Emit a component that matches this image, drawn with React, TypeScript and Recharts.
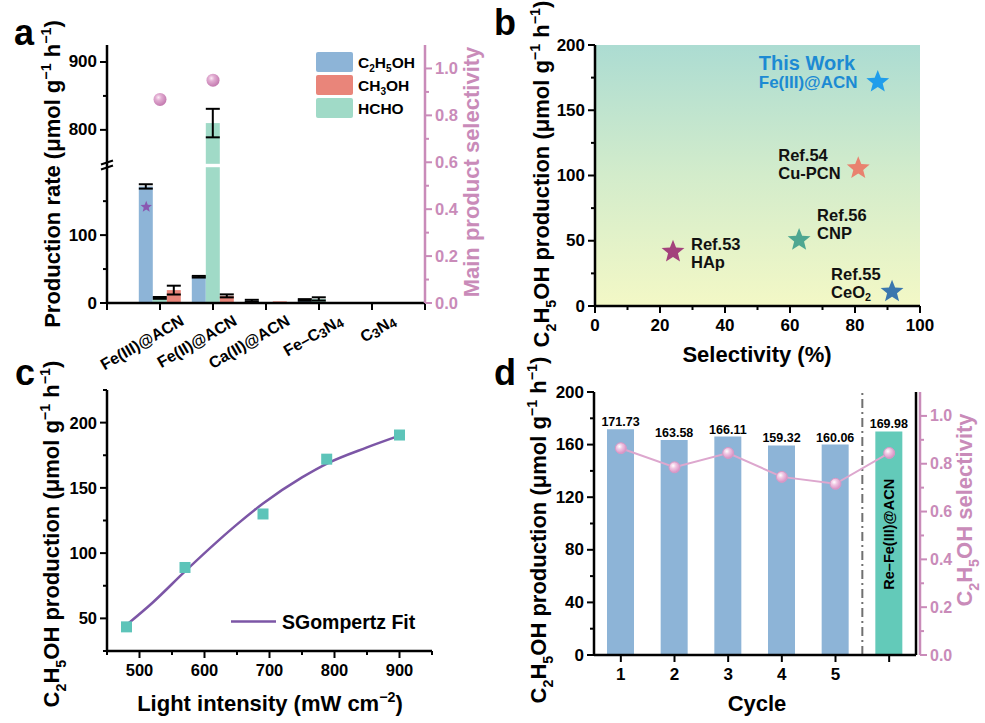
import React from 'react';
import {
  ComposedChart, Bar, Line, Scatter, XAxis, YAxis, CartesianGrid, ErrorBar,
  LabelList, ReferenceLine, Cell,
} from 'recharts';

const FONT = '"Liberation Sans", Arial, Helvetica, sans-serif';
const PINK = '#C98BB9';
const BLUE = '#8DB4D7';
const RED = '#E9857A';
const TEAL = '#A0DAC7';
const TEAL_D = '#63CAB9';
const LINE_PINK = '#DDA7CE';
const PURPLE = '#7C56A6';
const SQUARE = '#5DC4B9';

// ---------------- Panel a data ----------------
const catsA = ['Fe(III)@ACN', 'Fe(II)@ACN', 'Ca(II)@ACN', 'Fe–C3N4', 'C3N4'];
const c2h5ohA = [171.7, 38.7, 3.2, 4.5, 1.0];
const c2h5ohErrA: (number | null)[] = [3.2, 1.2, 1.5, 1.2, null];
const hchoA = [7.5, 810, 0.4, 6.0, 0.3];
const hchoErrA: (number | null)[] = [1.3, 21, null, 2.4, null];
const ch3ohA = [19.0, 10.5, 2.5, 0.5, 0];
const ch3ohErrA: (number | null)[] = [6.5, 2.2, null, null, null];
const selPosA = [1, 2];
const selA = [0.868, 0.95];
const starPosA = [0.74];
const starValA = [0.41];
const leftMajorA = [0, 100, 800, 900];
const leftMinorA = [50, 150, 850];
const rightTicksA = [0, 0.1, 0.2, 0.3, 0.4, 0.5, 0.6, 0.7, 0.8, 0.9, 1.0];
const rightMajorA = [0, 0.2, 0.4, 0.6, 0.8, 1.0];

// broken axis
const BREAK_LOW = 200;
const BREAK_HIGH = 750;
const BREAK_GAP = 5;
const SHIFT = BREAK_HIGH - BREAK_LOW - BREAK_GAP;
const toAxis = (v: number) => (v <= BREAK_LOW ? v : v - SHIFT);
const fromAxis = (t: number) => (t <= BREAK_LOW ? t : t + SHIFT);
const BREAK_MARK = BREAK_LOW + BREAK_GAP / 2;

// ---------------- Panel b data ----------------
const refNames = ['This Work', 'Ref.54', 'Ref.56', 'Ref.53', 'Ref.55'];
const refMaterials = ['Fe(III)@ACN', 'Cu-PCN', 'CNP', 'HAp', 'CeO2'];
const refSelectivity = [87, 81, 62.8, 24, 91.4];
const refProduction = [171.73, 105.5, 50.6, 41.6, 11];
const refColors = ['#1F9DEB', '#E9826F', '#4EA791', '#A3417C', '#3B77AE'];
const refLabelStyle = [
  { dx: -119, dy1: -19, dy2: 0, color: '#1C8AD3', fs1: 20, fs2: 17 },
  { dx: -80, dy1: -13.5, dy2: 4.5, color: '#111', fs1: 16.5, fs2: 16.5 },
  { dx: 18, dy1: -25, dy2: -7, color: '#111', fs1: 16.5, fs2: 16.5 },
  { dx: 18, dy1: -7.5, dy2: 10.5, color: '#111', fs1: 16.5, fs2: 16.5 },
  { dx: -61, dy1: -17.5, dy2: 0.5, color: '#111', fs1: 16.5, fs2: 16.5 },
];

// ---------------- Panel c data ----------------
const lightX = [480, 570, 690, 788, 900];
const prodC = [43.5, 89, 130, 172, 190.5];
const fitX = [480, 520, 570, 620, 650, 690, 750, 790, 850, 900];
const fitY = [45, 62, 86, 109, 122, 138, 158, 169, 181, 190];

// ---------------- Panel d data ----------------
const cycleCats = ['1', '2', '3', '4', '5', 'Re'];
const cycleTickLabels = ['1', '2', '3', '4', '5', ''];
const prodD = [171.73, 163.58, 166.11, 159.32, 160.06, 169.98];
const selD = [0.865, 0.785, 0.845, 0.745, 0.716, 0.845];
const innerLabelD = ['', '', '', '', '', 'Re–Fe(III)@ACN'];
const barColorsD = [BLUE, BLUE, BLUE, BLUE, BLUE, TEAL_D];
const separatorAfterD = '5';

// ---------------- helpers ----------------
type Seg = [string, '' | 'sub' | 'sup'];
function rich(segs: Seg[], fs: number, subScale = 0.65, subShift = 0.3) {
  let shift = 0;
  return segs.map(([t, k], i) => {
    const target = k === 'sub' ? fs * subShift : k === 'sup' ? -fs * 0.4 : 0;
    const dy = target - shift;
    shift = target;
    return (
      <tspan key={i} dy={dy} fontSize={k ? fs * subScale : fs}>{t}</tspan>
    );
  });
}
function chem(label: string): Seg[] {
  return label.split(/(\d)/).filter((s) => s !== '').map((s) => [s, /^\d$/.test(s) ? 'sub' : ''] as Seg);
}

const isIn = (arr: number[], v: number) => arr.some((a) => Math.abs(a - v) < 1e-6);

function makeYTick(o: { side: 'left' | 'right'; major: number[]; fmt?: (v: number) => string; color?: string; fs?: number; breakAt?: number }) {
  const { side, major, fmt = (v: number) => String(v), color = '#000', fs = 17, breakAt } = o;
  return (p: any) => {
    const x = Number(p.x);
    const y = Number(p.y);
    const v = Number(p.payload?.value);
    const s = side === 'left' ? -1 : 1;
    if (breakAt !== undefined && Math.abs(v - breakAt) < 1e-6) {
      return (
        <g>
          <line x1={x - 6} y1={y - 1} x2={x + 6} y2={y - 5} stroke="#000" strokeWidth={2} />
          <line x1={x - 6} y1={y + 4} x2={x + 6} y2={y} stroke="#000" strokeWidth={2} />
        </g>
      );
    }
    const maj = isIn(major, v);
    const len = maj ? 7 : 4;
    return (
      <g>
        <line x1={x} y1={y} x2={x + s * len} y2={y} stroke={color} strokeWidth={2} />
        {maj && (
          <text x={x + s * 10} y={y} textAnchor={side === 'left' ? 'end' : 'start'} dominantBaseline="central"
            fill={color} fontSize={fs} fontWeight="bold" fontFamily={FONT}>{fmt(v)}</text>
        )}
      </g>
    );
  };
}

function makeXTick(o: { major: number[]; fmt?: (v: number) => string; fs?: number }) {
  const { major, fmt = (v: number) => String(v), fs = 17 } = o;
  return (p: any) => {
    const x = Number(p.x);
    const y = Number(p.y);
    const v = Number(p.payload?.value);
    const maj = isIn(major, v);
    const len = maj ? 7 : 4;
    return (
      <g>
        <line x1={x} y1={y} x2={x} y2={y + len} stroke="#000" strokeWidth={2} />
        {maj && (
          <text x={x} y={y + 25} textAnchor="middle" fontSize={fs} fontWeight="bold" fontFamily={FONT} fill="#000">{fmt(v)}</text>
        )}
      </g>
    );
  };
}

function starPoints(cx: number, cy: number, R: number, r: number) {
  const pts: string[] = [];
  for (let i = 0; i < 10; i++) {
    const ang = -Math.PI / 2 + (i * Math.PI) / 5;
    const rad = i % 2 === 0 ? R : r;
    pts.push(`${cx + rad * Math.cos(ang)},${cy + rad * Math.sin(ang)}`);
  }
  return pts.join(' ');
}

const AX_LINE = { stroke: '#000', strokeWidth: 2.5 };

// ---------------- Panel a ----------------
const tickA = (p: any) => {
  const x = Number(p.x);
  const y = Number(p.y);
  const v = Number(p.payload?.value);
  const label = v >= 1 && v <= catsA.length ? catsA[v - 1] : '';
  return (
    <g>
      <line x1={x} y1={y} x2={x} y2={y + 7} stroke="#000" strokeWidth={2} />
      {label && (
        <text transform={`translate(${x + 25},${y + 21}) rotate(-30)`} textAnchor="end" fontSize={16}
          fontWeight="bold" fontFamily={FONT} fill="#000">{rich(chem(label), 16, 0.82, 0.12)}</text>
      )}
    </g>
  );
};

const GapBar = (p: any) => {
  const x = Number(p.x), y = Number(p.y), w = Number(p.width), h = Number(p.height);
  const tv = Number(p.payload?.hc);
  const base = y + h;
  const parts = [<rect key="r" x={x} y={y} width={w} height={Math.max(h, 0)} fill={p.fill} />];
  if (tv > BREAK_LOW + BREAK_GAP && h > 0) {
    const pxPer = h / tv;
    const gTop = base - (BREAK_LOW + BREAK_GAP) * pxPer;
    const gBot = base - BREAK_LOW * pxPer;
    parts.push(<rect key="g" x={x - 1} y={gTop} width={w + 2} height={gBot - gTop} fill="#fff" />);
  }
  return <g>{parts}</g>;
};

const BallA = (p: any) => <circle cx={p.cx} cy={p.cy} r={6.5} fill="url(#ballA)" />;
const StarA = (p: any) => <polygon points={starPoints(p.cx, p.cy, 6, 2.6)} fill="#8A58B2" />;

function PanelA() {
  const data = catsA.map((name, i) => ({
    name,
    c2: toAxis(c2h5ohA[i]), c2e: c2h5ohErrA[i],
    hc: toAxis(hchoA[i]), hce: hchoErrA[i],
    me: toAxis(ch3ohA[i]), mee: ch3ohErrA[i],
  }));
  const balls = selPosA.map((x, i) => ({ x, y: selA[i] }));
  const stars = starPosA.map((x, i) => ({ x, y: starValA[i] }));
  const leftTicks = [...[...leftMajorA, ...leftMinorA].map(toAxis), BREAK_MARK].sort((a, b) => a - b);
  return (
    <ComposedChart width={490} height={380} data={data} margin={{ top: 45, right: 15, bottom: 37, left: 47 }}
      barCategoryGap="10%" barGap={0}>
      <defs>
        <radialGradient id="ballA" cx="38%" cy="35%" r="65%">
          <stop offset="0%" stopColor="#FBEAF5" />
          <stop offset="35%" stopColor="#E2ADD2" />
          <stop offset="100%" stopColor="#C47BB0" />
        </radialGradient>
      </defs>
      <XAxis xAxisId="num" type="number" dataKey="x" domain={[0, 6]} ticks={[0, 1, 2, 3, 4, 5, 6]} interval={0}
        allowDataOverflow height={40} tickSize={0} tickMargin={0} tickLine={false} axisLine={AX_LINE} tick={tickA} />
      <XAxis xAxisId="cat" dataKey="name" hide height={0} padding={{ left: 26.5, right: 26.5 }} />
      <XAxis xAxisId="top" orientation="top" type="number" domain={[0, 1]} height={0} tick={false} tickLine={false}
        axisLine={AX_LINE} />
      <YAxis yAxisId="left" type="number" domain={[0, 380]} ticks={leftTicks} interval={0} allowDataOverflow
        width={60} tickSize={0} tickMargin={0} tickLine={false} axisLine={AX_LINE}
        tick={makeYTick({ side: 'left', major: leftMajorA.map(toAxis), fmt: (v) => String(Math.round(fromAxis(v))), breakAt: BREAK_MARK })} />
      <YAxis yAxisId="right" orientation="right" type="number" dataKey="y" domain={[0, 1.1]} ticks={rightTicksA}
        interval={0} allowDataOverflow width={50} tickSize={0} tickMargin={0} tickLine={false}
        axisLine={{ stroke: PINK, strokeWidth: 2.5 }}
        tick={makeYTick({ side: 'right', major: rightMajorA, fmt: (v) => v.toFixed(1), color: PINK, fs: 16.5 })} />
      <Bar xAxisId="cat" yAxisId="left" dataKey="c2" fill={BLUE} isAnimationActive={false}>
        <ErrorBar dataKey="c2e" width={7} strokeWidth={2} stroke="#000" direction="y" />
      </Bar>
      <Bar xAxisId="cat" yAxisId="left" dataKey="hc" fill={TEAL} shape={GapBar} isAnimationActive={false}>
        <ErrorBar dataKey="hce" width={7} strokeWidth={2} stroke="#000" direction="y" />
      </Bar>
      <Bar xAxisId="cat" yAxisId="left" dataKey="me" fill={RED} isAnimationActive={false}>
        <ErrorBar dataKey="mee" width={7} strokeWidth={2} stroke="#000" direction="y" />
      </Bar>
      <Scatter xAxisId="num" yAxisId="right" data={balls} dataKey="y" shape={BallA} isAnimationActive={false} />
      <Scatter xAxisId="num" yAxisId="right" data={stars} dataKey="y" shape={StarA} isAnimationActive={false} />
    </ComposedChart>
  );
}

// ---------------- Panel b ----------------
const RefStar = (p: any) => {
  const i = refNames.indexOf(p.payload?.name);
  const st = refLabelStyle[i] || refLabelStyle[1];
  const cx = Number(p.cx), cy = Number(p.cy);
  return (
    <g>
      <polygon points={starPoints(cx, cy, 12, 5.2)} fill={refColors[i]} />
      <text x={cx + st.dx} y={cy + st.dy1} dominantBaseline="central" fontSize={st.fs1} fontWeight="bold"
        fontFamily={FONT} fill={st.color}>{p.payload?.name}</text>
      <text x={cx + st.dx} y={cy + st.dy2} dominantBaseline="central" fontSize={st.fs2} fontWeight="bold"
        fontFamily={FONT} fill={st.color}>{rich(chem(p.payload?.material || ''), st.fs2)}</text>
    </g>
  );
};

function PanelB() {
  const data = refNames.map((name, i) => ({ name, material: refMaterials[i], x: refSelectivity[i], y: refProduction[i] }));
  return (
    <ComposedChart width={495} height={370} margin={{ top: 45, right: 65, bottom: 24, left: 45 }}>
      <defs>
        <linearGradient id="bgB" x1="0" y1="0" x2="0" y2="1">
          <stop offset="0%" stopColor="#ACDCD2" />
          <stop offset="50%" stopColor="#D3ECCB" />
          <stop offset="100%" stopColor="#F3F8C6" />
        </linearGradient>
      </defs>
      <CartesianGrid horizontal={false} vertical={false} fill="url(#bgB)" />
      <XAxis type="number" dataKey="x" domain={[0, 100]} ticks={[0, 10, 20, 30, 40, 50, 60, 70, 80, 90, 100]}
        interval={0} allowDataOverflow height={40} tickSize={0} tickMargin={0} tickLine={false} axisLine={AX_LINE}
        tick={makeXTick({ major: [0, 20, 40, 60, 80, 100] })} />
      <XAxis xAxisId="top" orientation="top" type="number" domain={[0, 1]} height={0} tick={false} tickLine={false}
        axisLine={AX_LINE} />
      <YAxis type="number" dataKey="y" domain={[0, 200]} ticks={[0, 25, 50, 75, 100, 125, 150, 175, 200]} interval={0}
        allowDataOverflow width={60} tickSize={0} tickMargin={0} tickLine={false} axisLine={AX_LINE}
        tick={makeYTick({ side: 'left', major: [0, 50, 100, 150, 200] })} />
      <YAxis yAxisId="frame" orientation="right" type="number" domain={[0, 1]} width={0} tick={false} tickLine={false}
        axisLine={AX_LINE} />
      <Scatter data={data} dataKey="y" shape={RefStar} isAnimationActive={false} />
    </ComposedChart>
  );
}

// ---------------- Panel c ----------------
const SquareC = (p: any) => <rect x={p.cx - 5.5} y={p.cy - 5.5} width={11} height={11} fill={SQUARE} />;

function PanelC() {
  const pts = lightX.map((x, i) => ({ x, y: prodC[i] }));
  const fit = fitX.map((x, i) => ({ x, y: fitY[i] }));
  return (
    <ComposedChart width={490} height={353} margin={{ top: 20, right: 58, bottom: 32, left: 47 }}>
      <XAxis type="number" dataKey="x" domain={[450, 950]} ticks={[450, 500, 550, 600, 650, 700, 750, 800, 850, 900, 950]}
        interval={0} allowDataOverflow height={40} tickSize={0} tickMargin={0} tickLine={false} axisLine={AX_LINE}
        tick={makeXTick({ major: [500, 600, 700, 800, 900], fs: 16.5 })} />
      <XAxis xAxisId="top" orientation="top" type="number" domain={[0, 1]} height={0} tick={false} tickLine={false}
        axisLine={AX_LINE} />
      <YAxis type="number" dataKey="y" domain={[25, 225]} ticks={[25, 50, 75, 100, 125, 150, 175, 200, 225]} interval={0}
        allowDataOverflow width={60} tickSize={0} tickMargin={0} tickLine={false} axisLine={AX_LINE}
        tick={makeYTick({ side: 'left', major: [50, 100, 150, 200], fs: 16.5 })} />
      <YAxis yAxisId="frame" orientation="right" type="number" domain={[0, 1]} width={0} tick={false} tickLine={false}
        axisLine={AX_LINE} />
      <Scatter data={pts} dataKey="y" shape={SquareC} isAnimationActive={false} />
      <Line data={fit} dataKey="y" type="monotone" stroke={PURPLE} strokeWidth={2.5} dot={false} isAnimationActive={false} />
    </ComposedChart>
  );
}

// ---------------- Panel d ----------------
const tickD = (p: any) => {
  const x = Number(p.x);
  const y = Number(p.y);
  const idx = p.index ?? p.payload?.index ?? 0;
  const label = cycleTickLabels[idx] ?? '';
  return (
    <g>
      <line x1={x} y1={y} x2={x} y2={y + 7} stroke="#000" strokeWidth={2} />
      {label && (
        <text x={x} y={y + 25} textAnchor="middle" fontSize={17} fontWeight="bold" fontFamily={FONT} fill="#000">{label}</text>
      )}
    </g>
  );
};

const InnerLabel = (p: any) => {
  if (!p.value) return null;
  const cx = Number(p.x) + Number(p.width) / 2;
  const cy = Number(p.y) + Number(p.height) * 0.46;
  return (
    <text transform={`translate(${cx},${cy}) rotate(-90)`} textAnchor="middle" dominantBaseline="central" fontSize={14.5}
      fontWeight="bold" fontFamily={FONT} fill="#000">{p.value}</text>
  );
};

const PinkDot = (p: any) => (
  <circle key={`pd${p.index}`} cx={p.cx} cy={p.cy} r={5.5} fill="url(#dotD)" stroke="#D79AC6" strokeWidth={1} />
);

function PanelD() {
  const data = cycleCats.map((cat, i) => ({ cat, prod: prodD[i], sel: selD[i], inner: innerLabelD[i] }));
  return (
    <ComposedChart width={495} height={353} data={data} margin={{ top: 22, right: 15, bottom: 28, left: 44 }}>
      <defs>
        <radialGradient id="dotD" cx="38%" cy="35%" r="65%">
          <stop offset="0%" stopColor="#FFFFFF" />
          <stop offset="40%" stopColor="#F0C6E2" />
          <stop offset="100%" stopColor="#D991C5" />
        </radialGradient>
      </defs>
      <XAxis xAxisId="cat" dataKey="cat" height={40} interval={0} tickSize={0} tickMargin={0} tickLine={false}
        axisLine={AX_LINE} tick={tickD} />
      <XAxis xAxisId="top" orientation="top" type="number" domain={[0, 1]} height={0} tick={false} tickLine={false}
        axisLine={AX_LINE} />
      <YAxis yAxisId="left" type="number" domain={[0, 200]} ticks={[0, 20, 40, 60, 80, 100, 120, 140, 160, 180, 200]}
        interval={0} allowDataOverflow width={60} tickSize={0} tickMargin={0} tickLine={false} axisLine={AX_LINE}
        tick={makeYTick({ side: 'left', major: [0, 40, 80, 120, 160, 200] })} />
      <YAxis yAxisId="frame" orientation="right" type="number" domain={[0, 1]} width={4} tick={false} tickLine={false}
        axisLine={AX_LINE} />
      <YAxis yAxisId="right" orientation="right" type="number" domain={[0, 1.1]} ticks={rightTicksA} interval={0}
        allowDataOverflow width={50} tickSize={0} tickMargin={0} tickLine={false} axisLine={{ stroke: PINK, strokeWidth: 2.5 }}
        tick={makeYTick({ side: 'right', major: rightMajorA, fmt: (v) => v.toFixed(1), color: PINK, fs: 16 })} />
      <ReferenceLine xAxisId="cat" yAxisId="left" x={separatorAfterD} position="end" stroke="#707070" strokeWidth={2}
        strokeDasharray="9 4 2 4" />
      <Bar xAxisId="cat" yAxisId="left" dataKey="prod" barSize={27} isAnimationActive={false}>
        {data.map((d, i) => <Cell key={i} fill={barColorsD[i]} />)}
        <LabelList dataKey="prod" position="top" offset={3} formatter={(v: any) => Number(v).toFixed(2)}
          fill="#000" fontSize={12.5} fontWeight="bold" />
        <LabelList dataKey="inner" content={InnerLabel} />
      </Bar>
      <Line xAxisId="cat" yAxisId="right" dataKey="sel" stroke={LINE_PINK} strokeWidth={2} dot={PinkDot}
        isAnimationActive={false} />
    </ComposedChart>
  );
}

// ---------------- Overlay (titles, letters, legends) ----------------
const prodSegs: Seg[] = [['C', ''], ['2', 'sub'], ['H', ''], ['5', 'sub'], ['OH production (μmol g', ''], ['−1', 'sup'], [' h', ''], ['−1', 'sup'], [')', '']];
const rateSegs: Seg[] = [['Production rate (μmol g', ''], ['−1', 'sup'], [' h', ''], ['−1', 'sup'], [')', '']];
const selSegs: Seg[] = [['C', ''], ['2', 'sub'], ['H', ''], ['5', 'sub'], ['OH selectivity', '']];
const lightSegs: Seg[] = [['Light intensity (mW cm', ''], ['−2', 'sup'], [')', '']];
const legendA: { label: string; color: string }[] = [
  { label: 'C2H5OH', color: BLUE },
  { label: 'CH3OH', color: RED },
  { label: 'HCHO', color: TEAL },
];

function VTitle({ x, y, segs, color = '#000', fs = 22 }: { x: number; y: number; segs: Seg[]; color?: string; fs?: number }) {
  return (
    <text x={x} y={y} transform={`rotate(-90 ${x} ${y})`} textAnchor="middle" fontSize={fs} fontWeight="bold" fill={color}>
      {rich(segs, fs)}
    </text>
  );
}

function Overlay() {
  return (
    <svg width={985} height={723} style={{ position: 'absolute', left: 0, top: 0, pointerEvents: 'none' }} fontFamily={FONT}>
      <g fontWeight="bold" fontSize={36} fill="#000">
        <text x={14} y={45}>a</text>
        <text x={494} y={35}>b</text>
        <text x={15} y={385}>c</text>
        <text x={494} y={385}>d</text>
      </g>
      <VTitle x={60} y={174} segs={rateSegs} />
      <VTitle x={479} y={172} segs={[['Main product selectivity', '']]} color={PINK} />
      <VTitle x={549} y={174} segs={prodSegs} />
      <text x={757} y={362} textAnchor="middle" fontSize={22} fontWeight="bold">Selectivity (%)</text>
      <VTitle x={59} y={534} segs={prodSegs} />
      <text x={270} y={711} textAnchor="middle" fontSize={22} fontWeight="bold">{rich(lightSegs, 22)}</text>
      <VTitle x={546} y={530} segs={prodSegs} />
      <VTitle x={972} y={510} segs={selSegs} color={PINK} />
      <text x={757} y={711} textAnchor="middle" fontSize={22} fontWeight="bold">Cycle</text>
      {legendA.map((l, i) => (
        <g key={l.label}>
          <rect x={316} y={52 + i * 23} width={37} height={20} rx={2} fill={l.color} />
          <text x={358} y={62 + i * 23 + 5.5} fontSize={15.5} fontWeight="bold">{rich(chem(l.label), 15.5)}</text>
        </g>
      ))}
      <line x1={231} y1={621.5} x2={276} y2={621.5} stroke={PURPLE} strokeWidth={2.5} />
      <text x={282} y={628.5} fontSize={19.5} fontWeight="bold">SGompertz Fit</text>
    </svg>
  );
}

export default function App() {
  return (
    <div style={{ position: 'absolute', left: 0, top: 0, width: 985, height: 723, background: '#fff', fontFamily: FONT, overflow: 'hidden' }}>
      <div style={{ position: 'absolute', left: 0, top: 0 }}><PanelA /></div>
      <div style={{ position: 'absolute', left: 490, top: 0 }}><PanelB /></div>
      <div style={{ position: 'absolute', left: 0, top: 370 }}><PanelC /></div>
      <div style={{ position: 'absolute', left: 490, top: 370 }}><PanelD /></div>
      <Overlay />
    </div>
  );
}
